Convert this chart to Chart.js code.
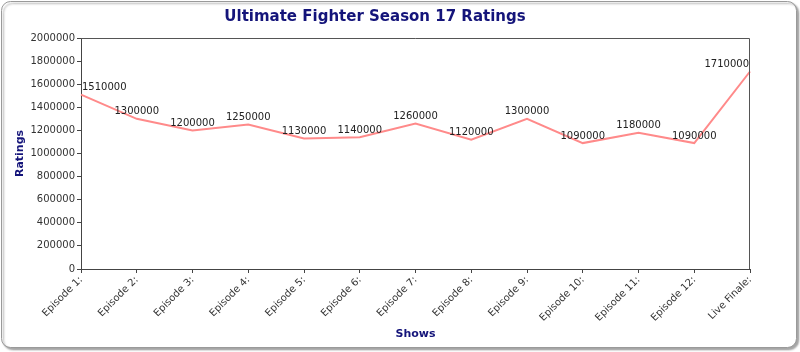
<!DOCTYPE html>
<html>
<head>
<meta charset="utf-8">
<script src="https://cdn.jsdelivr.net/npm/chart.js@4/dist/chart.umd.min.js"></script>
<style>
  body { margin: 0; background: #fff; }
  #wrap { width: 800px; height: 352px; position: relative; }
</style>
</head>
<body>
<div id="wrap"><canvas id="js--chart" width="800" height="352"></canvas></div>
<script>
const shows = ["Episode 1:", "Episode 2:", "Episode 3:", "Episode 4:", "Episode 5:", "Episode 6:",
  "Episode 7:", "Episode 8:", "Episode 9:", "Episode 10:", "Episode 11:", "Episode 12:", "Live Finale:"];
const ratings = [1510000, 1300000, 1200000, 1250000, 1130000, 1140000,
  1260000, 1120000, 1300000, 1090000, 1180000, 1090000, 1710000];

const navy = "#14147a";
const font = "'DejaVu Sans', sans-serif";

// rounded frame + top/right border of the plot + value labels
const framePlugin = {
    id: "frame",
    beforeDraw: function(chart) {
        const ctx = chart.ctx;
        ctx.save();
        ctx.fillStyle = "#fff";
        ctx.fillRect(0, 0, chart.width, chart.height);
        ctx.shadowColor = "rgba(0,0,0,0.35)";
        ctx.shadowOffsetX = 2;
        ctx.shadowOffsetY = 2;
        ctx.shadowBlur = 2;
        ctx.strokeStyle = "#9a9a9a";
        ctx.lineWidth = 1;
        ctx.beginPath();
        ctx.roundRect(1.5, 1.5, chart.width - 5, chart.height - 6, 9);
        ctx.fillStyle = "#fff";
        ctx.fill();
        ctx.stroke();
        ctx.restore();
    },
    afterDatasetsDraw: function(chart) {
        const a = chart.chartArea;
        const ctx = chart.ctx;
        ctx.save();
        ctx.strokeStyle = "#555";
        ctx.lineWidth = 1;
        ctx.beginPath();
        ctx.moveTo(a.left, a.top + 0.5);
        ctx.lineTo(a.right - 0.5, a.top + 0.5);
        ctx.lineTo(a.right - 0.5, a.bottom);
        ctx.stroke();

        const meta = chart.getDatasetMeta(0);
        ctx.font = "10px " + font;
        ctx.fillStyle = "#222";
        ctx.textBaseline = "middle";
        ctx.textAlign = "center";
        meta.data.forEach(function(pt, i) {
            const txt = String(ratings[i]);
            const w = ctx.measureText(txt).width;
            let x = pt.x;
            if (x - w / 2 < a.left + 1) x = a.left + 1 + w / 2;
            if (x + w / 2 > a.right - 1) x = a.right - 1 - w / 2;
            ctx.fillText(txt, x, pt.y - 7);
        });
        ctx.restore();
    }
};

new Chart(document.getElementById("js--chart"), {
    type: "line",
    data: {
        labels: shows,
        datasets: [{
            label: "Ratings",
            data: ratings,
            borderColor: "#ff8a8a",
            borderWidth: 2,
            pointRadius: 0,
            tension: 0,
            fill: false
        }]
    },
    options: {
        responsive: false,
        animation: false,
        devicePixelRatio: 1,
        layout: { padding: { top: 0, left: 0, right: 50, bottom: 0 } },
        plugins: {
            legend: { display: false },
            tooltip: { enabled: false },
            title: {
                display: true,
                text: "Ultimate Fighter Season 17 Ratings",
                color: navy,
                font: { size: 15, weight: "bold", family: font },
                padding: { top: 8, bottom: 12 }
            }
        },
        scales: {
            x: {
                offset: false,
                afterFit: function(scale) { scale.height = 83; },
                grid: { drawOnChartArea: false, drawTicks: true, tickLength: 4, color: "#444" },
                border: { color: "#444", width: 1 },
                ticks: {
                    autoSkip: false,
                    maxRotation: 45,
                    minRotation: 45,
                    padding: 1,
                    color: "#333",
                    font: { size: 10, family: font }
                },
                title: {
                    display: true,
                    text: "Shows",
                    color: navy,
                    font: { size: 11, weight: "bold", family: font },
                    padding: { top: 0, bottom: 11 }
                }
            },
            y: {
                min: 0,
                max: 2000000,
                afterFit: function(scale) { scale.width = 81; },
                grid: { drawOnChartArea: false, drawTicks: true, tickLength: 4, color: "#444" },
                border: { color: "#444", width: 1 },
                ticks: {
                    stepSize: 200000,
                    padding: 2,
                    color: "#333",
                    font: { size: 10, family: font },
                    callback: function(v) { return String(v); }
                },
                title: {
                    display: true,
                    text: "Ratings",
                    color: navy,
                    font: { size: 11, weight: "bold", family: font },
                    padding: { top: 14, bottom: 6 }
                }
            }
        }
    },
    plugins: [framePlugin]
});
</script>
</body>
</html>
